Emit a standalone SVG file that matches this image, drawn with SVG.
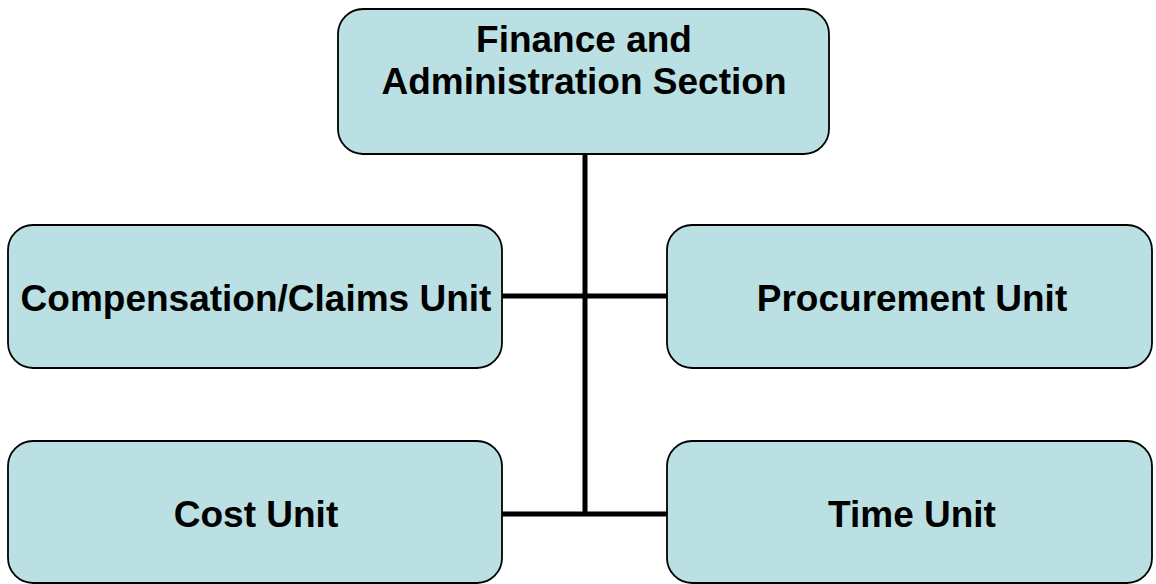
<svg xmlns="http://www.w3.org/2000/svg" width="1156" height="584" viewBox="0 0 1156 584">
<style>
.box{fill:#BAE0E3;stroke:#000;stroke-width:1.8}
.t{font-family:"Liberation Sans",Arial,sans-serif;font-weight:bold;font-size:37px;fill:#000;text-anchor:middle}
.c{stroke:#000;stroke-width:5;fill:none}
</style>
<rect width="1156" height="584" fill="#fff"/>
<g id="connectors">
<line class="c" x1="585" y1="154" x2="585" y2="516"/>
<line class="c" x1="502" y1="296" x2="668" y2="296"/>
<line class="c" x1="502" y1="514" x2="668" y2="514"/>
</g>
<g id="finance">
<rect class="box" x="338" y="9" width="491" height="145" rx="25"/>
<text class="t" x="584" y="52" font-size="36">Finance and</text>
<text class="t" x="584" y="94" font-size="36">Administration Section</text>
</g>
<g id="compensation">
<rect class="box" x="8" y="225" width="494" height="143" rx="25"/>
<text class="t" x="256" y="311">Compensation/Claims Unit</text>
</g>
<g id="procurement">
<rect class="box" x="667" y="225" width="485" height="143" rx="25"/>
<text class="t" x="912" y="311">Procurement Unit</text>
</g>
<g id="cost">
<rect class="box" x="8" y="441" width="494" height="142" rx="25"/>
<text class="t" x="256" y="527">Cost Unit</text>
</g>
<g id="time">
<rect class="box" x="667" y="441" width="485" height="142" rx="25"/>
<text class="t" x="912" y="527">Time Unit</text>
</g>
</svg>
